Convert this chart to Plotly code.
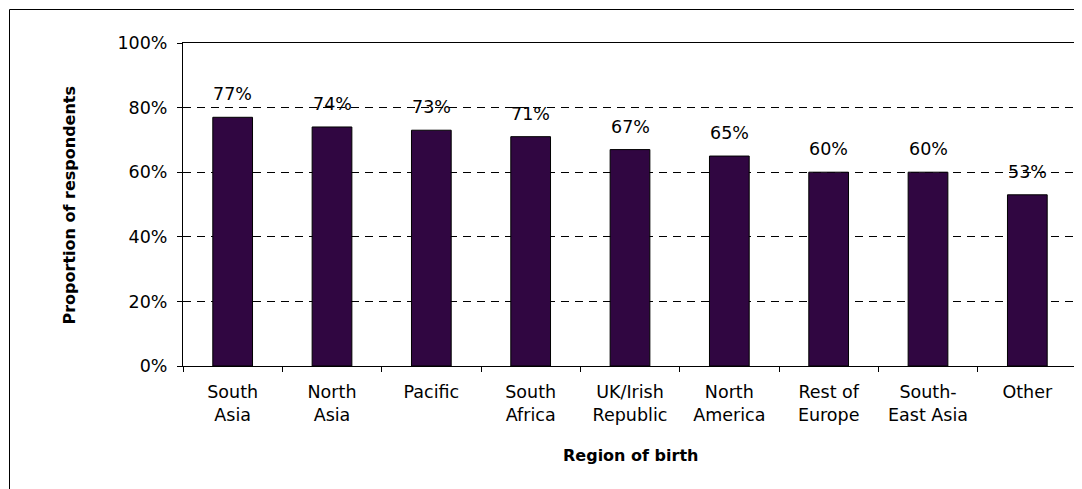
import plotly.graph_objects as go

categories = ["South<br>Asia", "North<br>Asia", "Pacific", "South<br>Africa", "UK/Irish<br>Republic",
              "North<br>America", "Rest of<br>Europe", "South-<br>East Asia", "Other"]
values = [77, 74, 73, 71, 67, 65, 60, 60, 53]
y_ticks = [0, 20, 40, 60, 80, 100]
y_title = "Proportion of respondents"
x_title = "Region of birth"

FONT = "DejaVu Sans"
OFF = 8  # page body margin
W, H = 1082 - OFF, 489 - OFF
L, T = 183 - OFF, 43 - OFF
R = W - (1077 - OFF)
B = H - (366 - OFF)
pw, ph = W - L - R, H - T - B

fig = go.Figure()
fig.add_trace(go.Bar(
    x=categories, y=values, width=0.4,
    marker=dict(color="#300641", line=dict(color="black", width=1)),
    hoverinfo="skip",
))

for c, v in zip(categories, values):
    fig.add_annotation(x=c, y=v, text=f"{v}%", showarrow=False, yanchor="bottom",
                       yshift=11, font=dict(family=FONT, size=17.5, color="black"))

fig.add_annotation(xref="paper", yref="paper", x=(69 - OFF - L) / pw, y=0.5, text=f"<b>{y_title}</b>",
                   textangle=-90, showarrow=False, xanchor="center", yanchor="middle",
                   font=dict(family=FONT, size=16, color="black"))
fig.add_annotation(xref="paper", yref="paper", x=0.5, y=-(455 - 366) / ph, text=f"<b>{x_title}</b>",
                   showarrow=False, xanchor="center", yanchor="middle",
                   font=dict(family=FONT, size=16, color="black"))

fig.add_shape(type="rect", xref="paper", yref="paper",
              x0=(9.5 - OFF - L) / pw, x1=1.3, y0=-1.0, y1=(366 - 9.5) / ph,
              line=dict(color="black", width=1), fillcolor="rgba(0,0,0,0)", layer="below")

fig.update_layout(
    width=W, height=H,
    margin=dict(l=L, r=R, t=T, b=B, autoexpand=False),
    paper_bgcolor="white", plot_bgcolor="white",
    showlegend=False,
    font=dict(family=FONT, size=17.5, color="black"),
)
fig.update_xaxes(
    type="category", showline=True, linecolor="black", linewidth=1, mirror=True,
    ticks="outside", tickson="boundaries", ticklen=5, tickcolor="black",
    showgrid=False, tickfont=dict(family=FONT, size=17.5, color="black"),
    ticklabelstandoff=10,
)
fig.update_yaxes(
    range=[0, 100], tickvals=y_ticks, ticktext=[f"{t}%" for t in y_ticks],
    showline=True, linecolor="black", linewidth=1, mirror=True,
    ticks="outside", ticklen=5, tickcolor="black",
    showgrid=True, gridcolor="black", gridwidth=1, griddash="8px,6px",
    zeroline=False, tickfont=dict(family=FONT, size=17.5, color="black"),
    ticklabelstandoff=6,
)

fig.write_html("out.html")
